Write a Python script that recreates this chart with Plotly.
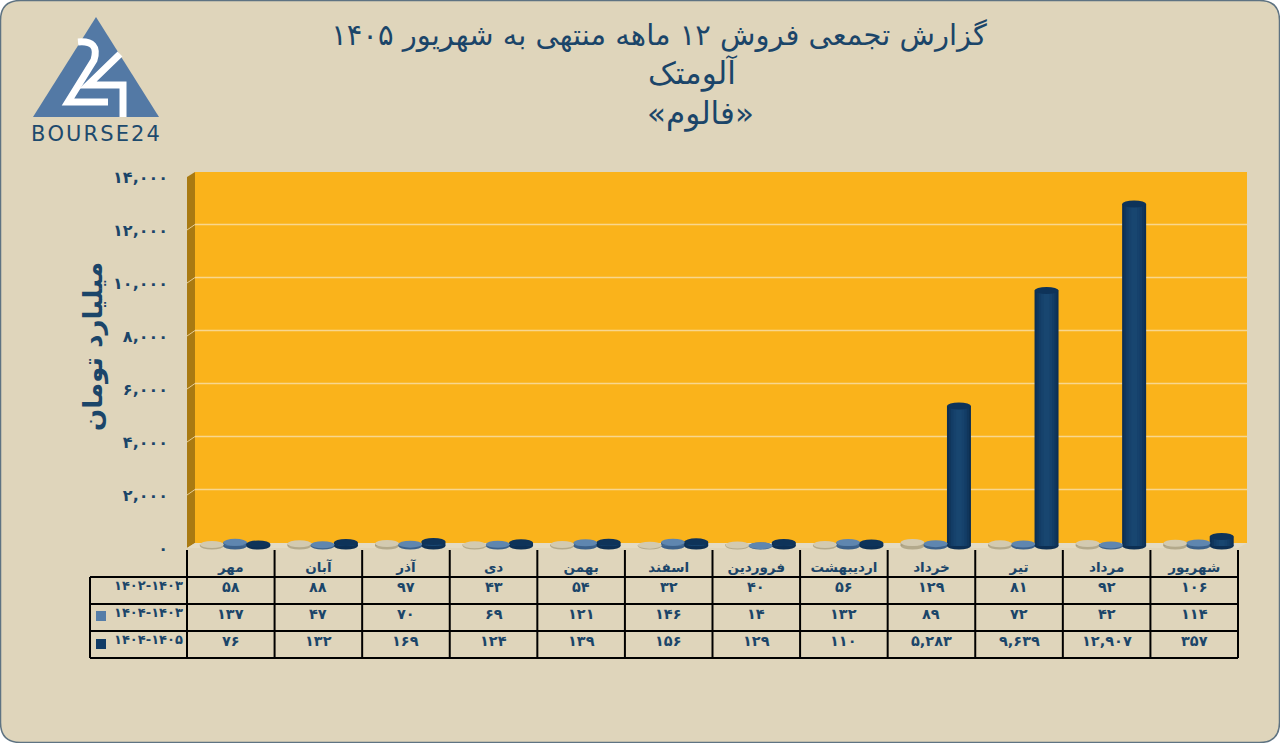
import plotly.graph_objects as go

months = ["مهر", "آبان", "آذر", "دی", "بهمن", "اسفند", "فروردین", "اردیبهشت", "خرداد", "تیر", "مرداد", "شهریور"]
series_names = ["۱۴۰۲-۱۴۰۳", "۱۴۰۴-۱۴۰۳", "۱۴۰۴-۱۴۰۵"]
sales_1402_1403 = [58, 88, 97, 43, 54, 32, 40, 56, 129, 81, 92, 106]
sales_1403_1404 = [137, 47, 70, 69, 121, 146, 14, 132, 89, 72, 42, 114]
sales_1404_1405 = [76, 132, 169, 124, 139, 156, 129, 110, 5283, 9639, 12907, 357]
y_ticks = [0, 2000, 4000, 6000, 8000, 10000, 12000, 14000]
title_lines = ["گزارش تجمعی فروش ۱۲ ماهه منتهی به شهریور ۱۴۰۵", "آلومتک", "«فالوم»"]
y_title = "میلیارد تومان"

W, H = 1280, 743
L, R, T, B = 187, 1238, 177, 550
INK = "#1B4569"
FONT = "DejaVu Sans"
Y_LO = -(B - 548) / ((548 - T) / 14000)
PX = (B - T) / (14000 - Y_LO)      # pixels per data unit
BASE = 2 / PX
CAP = 3.5 / PX

fa = str.maketrans("0123456789", "۰۱۲۳۴۵۶۷۸۹")
def persian(v):
    return f"{v:,}".translate(fa)
def xp(px):
    return (px - L) / (R - L)
def yp(py):
    return (B - py) / (B - T)
def poly(points, **kw):
    d = "M" + " L".join(f"{xp(a):.5f},{yp(b):.5f}" for a, b in points) + " Z"
    return dict(type="path", path=d, xref="paper", yref="paper", layer="below", **kw)
def seg(x0, y0, x1, y1, color="black", width=2, layer="above"):
    return dict(type="line", xref="paper", yref="paper", x0=xp(x0), y0=yp(y0), x1=xp(x1), y1=yp(y1),
                line=dict(color=color, width=width), layer=layer)

idx = list(range(len(months)))
all_series = [sales_1402_1403, sales_1403_1404, sales_1404_1405]
offsets = [-0.353, -0.088, 0.177]
bar_w = 0.274
shades = [
    dict(ramp=["#A99E80", "#B1A688", "#B9AE90", "#C1B698", "#C9BFA2"], top="#D3CAB0", bottom="#B3A98B"),
    dict(ramp=["#3F648D", "#456B94", "#4B729C", "#5078A2", "#557DA8"], top="#5F86AF", bottom="#3C618A"),
    dict(ramp=["#0D2F53", "#10365C", "#133D66", "#16426C", "#184670"], top="#0E3359", bottom="#0D2F53"),
]
fracs = [1.0, 0.84, 0.66, 0.46, 0.24]

fig = go.Figure()
for name, vals, off, sh in zip(series_names, all_series, offsets, shades):
    for frac, col in zip(fracs, sh["ramp"]):
        w = bar_w * frac
        fig.add_bar(x=idx, y=vals, base=BASE, width=w, offset=off + (bar_w - w) / 2,
                    marker=dict(color=col, line=dict(width=0)), name=name, showlegend=False,
                    hoverinfo="skip" if frac < 1 else None)

shapes = []
# frame
r = 20
fx0, fy0, fx1, fy1 = 0.5, 0.5, 1279.5, 742.5
frame = (f"M{xp(fx0+r):.5f},{yp(fy0):.5f} L{xp(fx1-r):.5f},{yp(fy0):.5f} "
         f"Q{xp(fx1):.5f},{yp(fy0):.5f} {xp(fx1):.5f},{yp(fy0+r):.5f} L{xp(fx1):.5f},{yp(fy1-r):.5f} "
         f"Q{xp(fx1):.5f},{yp(fy1):.5f} {xp(fx1-r):.5f},{yp(fy1):.5f} L{xp(fx0+r):.5f},{yp(fy1):.5f} "
         f"Q{xp(fx0):.5f},{yp(fy1):.5f} {xp(fx0):.5f},{yp(fy1-r):.5f} L{xp(fx0):.5f},{yp(fy0+r):.5f} "
         f"Q{xp(fx0):.5f},{yp(fy0):.5f} {xp(fx0+r):.5f},{yp(fy0):.5f} Z")
shapes.append(dict(type="path", path=frame, xref="paper", yref="paper", layer="below",
                   fillcolor="#DFD5BB", line=dict(color="#5E7382", width=1.5)))
# 3D walls
shapes.append(poly([(195, 172), (1247, 172), (1247, 543), (195, 543)], fillcolor="#FAB31B", line=dict(width=0)))
shapes.append(poly([(187, 177), (195, 172), (195, 543), (187, 548)], fillcolor="#A97A12", line=dict(width=0)))
shapes.append(poly([(187, 548), (195, 543), (1247, 543), (1238, 548)], fillcolor="#E4DBC4", line=dict(width=0)))
for t in y_ticks[1:-1]:
    y = 548 - t * PX
    shapes.append(seg(187, y, 195, y - 5.5, "#E8CE94", 1, "below"))
    shapes.append(seg(195, y - 5.5, 1247, y - 5.5, "#F8D68E", 1.4, "below"))
# bar caps, sized through the data axes
for vals, off, sh in zip(all_series, offsets, shades):
    for i, v in zip(idx, vals):
        x0, x1 = i + off, i + off + bar_w
        shapes.append(dict(type="circle", xref="x", yref="y", x0=x0, x1=x1, y0=BASE - CAP, y1=BASE + CAP,
                           fillcolor=sh["bottom"], line=dict(width=0), layer="below"))
        shapes.append(dict(type="circle", xref="x", yref="y", x0=x0, x1=x1, y0=BASE + v - CAP, y1=BASE + v + CAP,
                           fillcolor=sh["top"], line=dict(width=0), layer="above"))
# table rules
rows_y = [577, 604, 631, 658]
for y in rows_y:
    shapes.append(seg(90, y, R, y))
shapes.append(seg(90, 577, 90, 658))
for i in range(len(months) + 1):
    x = L + i * (R - L) / len(months)
    shapes.append(seg(x, 550, x, 658))
# legend keys in the table
shapes.append(poly([(96, 611), (106, 611), (106, 621), (96, 621)], fillcolor="#557DA8", line=dict(width=0)))
shapes.append(poly([(96, 639), (106, 639), (106, 649), (96, 649)], fillcolor="#123C66", line=dict(width=0)))
# logo
shapes.append(poly([(96, 17), (159, 117), (33, 117)], fillcolor="#5379A5", line=dict(width=0)))
def logo_path(d_pts):
    return dict(type="path", xref="paper", yref="paper", layer="below", path=d_pts,
                line=dict(color="white", width=7), fillcolor="rgba(0,0,0,0)")
shapes.append(logo_path(f"M{xp(78):.5f},{yp(42):.5f} Q{xp(100):.5f},{yp(40):.5f} {xp(94):.5f},{yp(60):.5f} "
                        f"L{xp(68):.5f},{yp(102):.5f} L{xp(108):.5f},{yp(102):.5f}"))
shapes.append(logo_path(f"M{xp(120):.5f},{yp(54):.5f} L{xp(88):.5f},{yp(85):.5f} L{xp(123):.5f},{yp(85):.5f} "
                        f"L{xp(123):.5f},{yp(117):.5f}"))

ann = []
def note(text, x, y, size, bold=False, xref="paper", xanchor="center", angle=0, color=INK):
    ann.append(dict(text=f"<b>{text}</b>" if bold else text, x=x, y=y, xref=xref, yref="paper",
                    xanchor=xanchor, yanchor="middle", showarrow=False, textangle=angle,
                    font=dict(family=FONT, size=size, color=color)))

note(title_lines[1], xp(692), yp(73), 31)
note(title_lines[2], xp(700), yp(113), 31)
note(y_title, xp(93), yp(347), 26, bold=True, angle=-90)
note("B\u200aO\u200aU\u200aR\u200aS\u200aE\u200a2\u200a4", xp(95.5), yp(134), 21, xanchor="center", color="#1D4A6D")
for row_y, name, vals in zip((590.5, 617.5, 644.5), series_names, all_series):
    note(name, xp(185), yp(row_y - 5), 13, bold=True, xanchor="right")
    for i, v in zip(idx, vals):
        note(persian(v), i, yp(row_y - 4), 14.5, bold=True, xref="x")

fig.update_layout(
    width=W, height=H, margin=dict(l=L, r=W - R, t=T, b=H - B, pad=0), autosize=False,
    paper_bgcolor="white", plot_bgcolor="rgba(0,0,0,0)", barmode="overlay", showlegend=False,
    title=dict(text=title_lines[0], x=659 / W, xanchor="center", y=1 - 35 / H, yanchor="middle",
               font=dict(family=FONT, size=29, color=INK)),
    xaxis=dict(range=[-0.5, 11.5], tickmode="array", tickvals=idx, ticktext=[f"<b>{m}</b>" for m in months],
               showgrid=False, zeroline=False, showline=False, ticks="", ticklabelstandoff=7,
               tickfont=dict(family=FONT, size=13.5, color=INK)),
    yaxis=dict(range=[Y_LO, 14000], tickmode="array", tickvals=y_ticks,
               ticktext=[f"<b>{persian(t)}</b>" for t in y_ticks], showgrid=False, zeroline=False,
               showline=False, ticks="", ticklabelstandoff=18,
               tickfont=dict(family=FONT, size=16, color=INK)),
    shapes=shapes, annotations=ann,
)
fig.write_html("out.html", config={"displayModeBar": False},
               post_script="document.body.style.margin='0';document.body.style.overflow='hidden';")
